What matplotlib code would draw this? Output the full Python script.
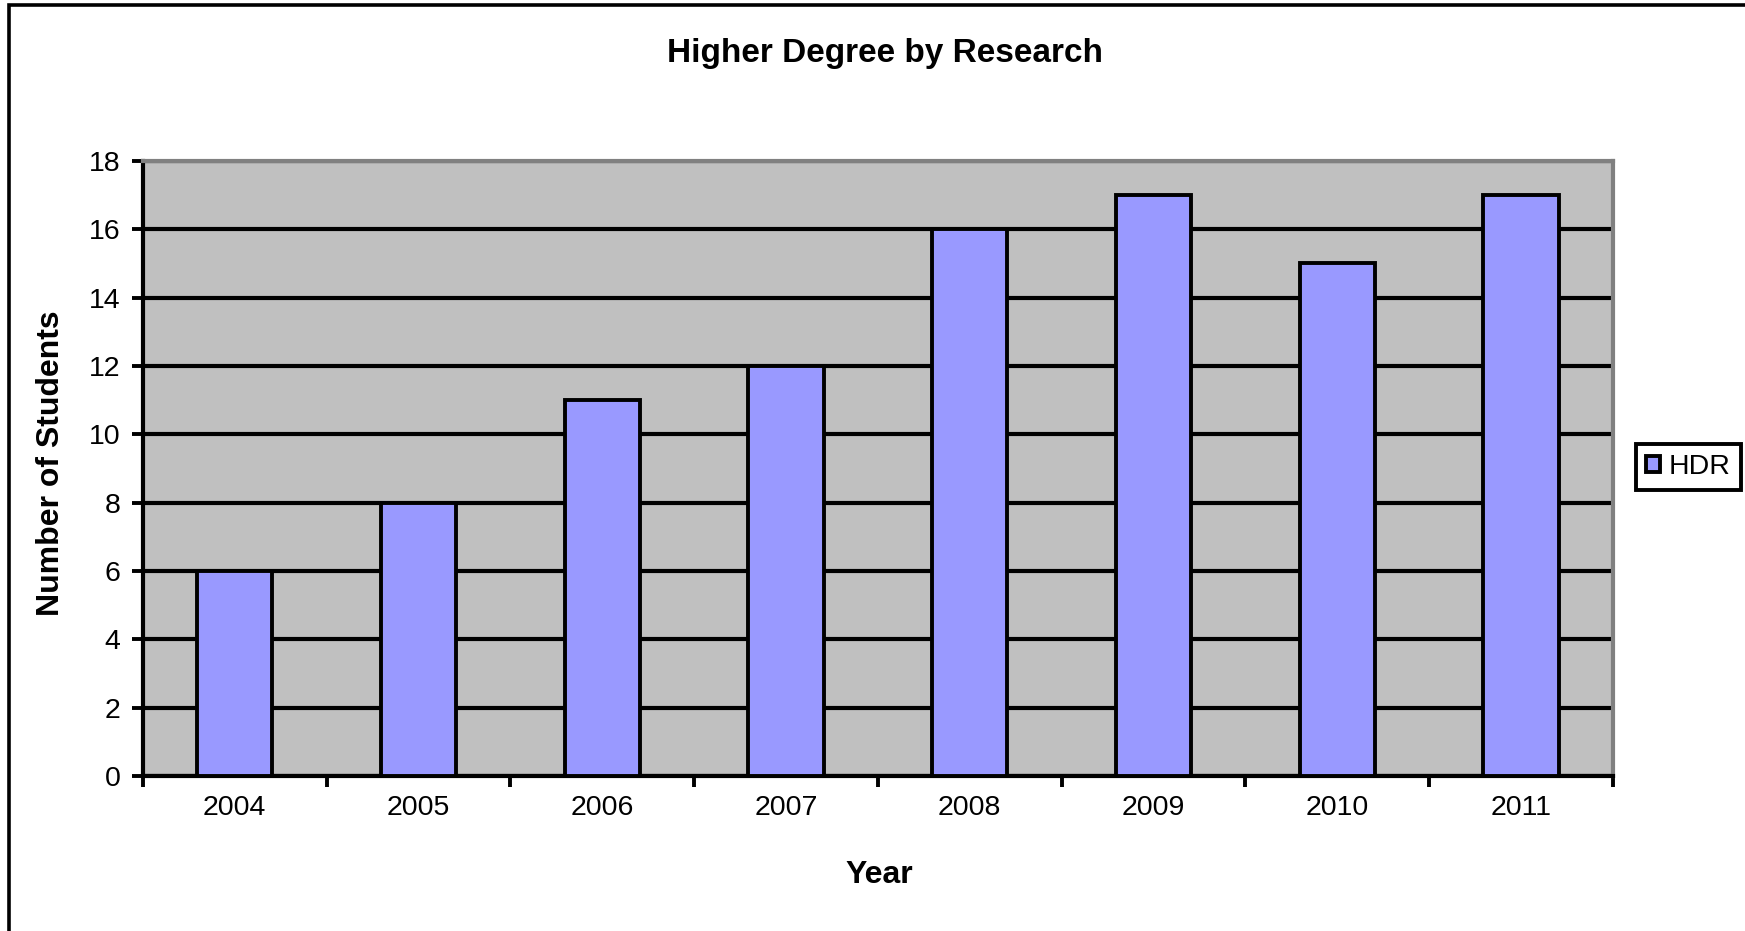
import numpy as np
import matplotlib
matplotlib.use("Agg")
import matplotlib.pyplot as plt
from matplotlib.patches import Patch, Rectangle

plt.rcParams['font.family'] = ['Liberation Sans', 'DejaVu Sans']

# HDR enrolments per year
years = ['2004', '2005', '2006', '2007', '2008', '2009', '2010', '2011']
students = [6, 8, 11, 12, 16, 17, 15, 17]

bar_color = '#9999FF'
plot_bg = '#C0C0C0'

fig = plt.figure(figsize=(17.45, 9.31), dpi=100)
ax = fig.add_axes([0.0819, 0.1665, 0.8424, 0.6606])
ax.set_facecolor(plot_bg)

x = np.arange(len(years))
ax.bar(x, students, width=0.41, color=bar_color, edgecolor='black',
       linewidth=2.8, zorder=3)

ax.set_xlim(-0.5, len(years) - 0.5)
ax.set_ylim(0, 18)
ax.set_yticks(np.arange(0, 19, 2))
ax.yaxis.grid(True, color='black', linewidth=3.0, zorder=1)
ax.set_axisbelow(True)

# ticks between categories, labels centred under bars
ax.set_xticks(np.arange(len(years) + 1) - 0.5)
ax.set_xticklabels([])
ax.set_xticks(x, minor=True)
ax.set_xticklabels(years, minor=True)
ax.tick_params(axis='x', which='major', length=8, width=2.8, direction='out')
ax.tick_params(axis='x', which='minor', length=0, pad=14, labelsize=20.5)
ax.tick_params(axis='y', length=8, width=2.8, pad=8, labelsize=20.5)

for side in ['left', 'bottom']:
    ax.spines[side].set_color('black')
    ax.spines[side].set_linewidth(3.0)
for side in ['top', 'right']:
    ax.spines[side].set_color('#808080')
    ax.spines[side].set_linewidth(3.0)

fig.text(0.507, 0.942, 'Higher Degree by Research', ha='center', va='center',
         fontsize=24, fontweight='bold')
fig.text(0.0295, 0.502, 'Number of Students', ha='center', va='center',
         rotation=90, fontsize=23, fontweight='bold')
fig.text(0.504, 0.06, 'Year', ha='center', va='center',
         fontsize=23, fontweight='bold')

handle = Patch(facecolor=bar_color, edgecolor='black', linewidth=2.8)
leg = fig.legend([handle], ['HDR'], loc='center',
                 bbox_to_anchor=(0.9676, 0.4979), fontsize=20.5,
                 handlelength=0.5, handleheight=0.5, handletextpad=0.3,
                 borderpad=0.35, fancybox=False, framealpha=1)
leg.get_frame().set_edgecolor('black')
leg.get_frame().set_linewidth(2.8)

# outer chart frame
fig.patches.append(Rectangle((9 / 1745, -0.1), 1.2, 1.1 - 5 / 931,
                             transform=fig.transFigure, fill=False,
                             edgecolor='black', linewidth=2.6))

fig.savefig('out.png', dpi=100)
